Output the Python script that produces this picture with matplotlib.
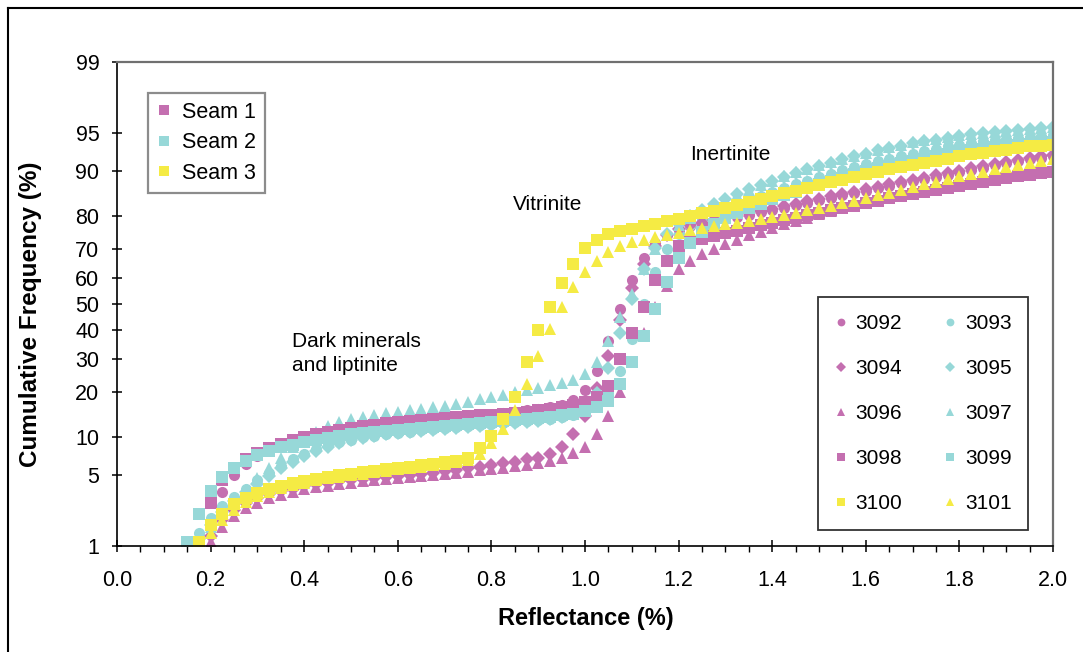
import math
import numpy as np
import matplotlib
matplotlib.use("Agg")
import matplotlib.pyplot as plt
from matplotlib.lines import Line2D
from matplotlib.ticker import FixedLocator, MultipleLocator, FormatStrFormatter

plt.rcParams['font.family'] = ['Liberation Sans', 'DejaVu Sans']

# Reflectance bins (%)
refl = [0.150, 0.175, 0.200, 0.225, 0.250, 0.275, 0.300, 0.325, 0.350, 0.375,
        0.400, 0.425, 0.450, 0.475, 0.500, 0.525, 0.550, 0.575, 0.600, 0.625,
        0.650, 0.675, 0.700, 0.725, 0.750, 0.775, 0.800, 0.825, 0.850, 0.875,
        0.900, 0.925, 0.950, 0.975, 1.000, 1.025, 1.050, 1.075, 1.100, 1.125,
        1.150, 1.175, 1.200, 1.225, 1.250, 1.275, 1.300, 1.325, 1.350, 1.375,
        1.400, 1.425, 1.450, 1.475, 1.500, 1.525, 1.550, 1.575, 1.600, 1.625,
        1.650, 1.675, 1.700, 1.725, 1.750, 1.775, 1.800, 1.825, 1.850, 1.875,
        1.900, 1.925, 1.950, 1.975, 2.000]

# cumulative frequency (%) for each sample, None = no reading
s3092 = [None, None, 1.8, 3.5, 5.0, 6.2, 7.2, 8.0, 8.7, 9.3,
         9.9, 10.4, 10.9, 11.3, 11.7, 12.0, 12.3, 12.5, 12.7, 12.9,
         13.1, 13.3, 13.5, 13.7, 13.9, 14.1, 14.4, 14.7, 15.0, 15.3,
         15.6, 16.0, 16.6, 17.8, 20.5, 26, 36, 48, 59, 67,
         72, 74.5, 76.2, 77.2, 78.0, 78.7, 79.3, 79.9, 80.5, 81.1,
         81.7, 82.3, 82.9, 83.5, 84.1, 84.7, 85.2, 85.7, 86.2, 86.7,
         87.2, 87.7, 88.1, 88.5, 88.9, 89.3, 89.7, 90.1, 90.5, 90.9,
         91.2, 91.5, 91.8, 92.0, 92.2]
s3094 = [None, None, 1.3, 1.9, 2.4, 2.8, 3.1, 3.4, 3.6, 3.8,
         4.0, 4.2, 4.3, 4.45, 4.55, 4.65, 4.75, 4.85, 4.95, 5.05,
         5.15, 5.25, 5.4, 5.55, 5.7, 5.9, 6.1, 6.3, 6.5, 6.75,
         7.0, 7.5, 8.5, 10.5, 14, 21, 31, 44, 56, 65,
         71, 74.5, 76.5, 77.5, 78.3, 79.0, 79.6, 80.2, 80.8, 81.4,
         82.0, 82.6, 83.2, 83.8, 84.4, 85.0, 85.5, 86.0, 86.5, 87.0,
         87.5, 88.0, 88.4, 88.8, 89.2, 89.6, 90.0, 90.4, 90.8, 91.1,
         91.4, 91.7, 92.0, 92.2, 92.4]
s3096 = [None, None, 1.1, 1.6, 2.1, 2.5, 2.8, 3.1, 3.35, 3.55,
         3.75, 3.9, 4.05, 4.2, 4.3, 4.4, 4.5, 4.6, 4.7, 4.8,
         4.9, 5.0, 5.1, 5.2, 5.35, 5.5, 5.65, 5.8, 5.95, 6.1,
         6.3, 6.6, 7.0, 7.6, 8.5, 10.5, 14, 20, 29, 39,
         49, 57, 63, 66, 68.5, 70.3, 71.8, 73.2, 74.5, 75.7,
         76.8, 77.8, 78.8, 79.7, 80.6, 81.4, 82.1, 82.8, 83.5, 84.1,
         84.7, 85.3, 85.8, 86.3, 86.8, 87.3, 87.8, 88.2, 88.6, 89.0,
         89.3, 89.6, 89.9, 90.1, 90.3]
s3098 = [None, None, 2.8, 4.5, 5.8, 6.8, 7.6, 8.3, 8.9, 9.5,
         10.0, 10.5, 10.9, 11.3, 11.7, 12.0, 12.3, 12.6, 12.8, 13.0,
         13.2, 13.4, 13.6, 13.8, 14.0, 14.2, 14.4, 14.6, 14.8, 15.0,
         15.3, 15.6, 16.0, 16.5, 17.2, 18.5, 21.5, 30, 39, 49,
         59, 66, 71, 72.5, 73.5, 74.4, 75.2, 76.0, 76.8, 77.5,
         78.2, 78.9, 79.6, 80.3, 81.0, 81.6, 82.2, 82.8, 83.4, 84.0,
         84.5, 85.0, 85.5, 86.0, 86.4, 86.8, 87.2, 87.6, 88.0, 88.4,
         88.7, 89.0, 89.3, 89.6, 89.8]
s3093 = [1.0, 1.4, 2.0, 2.6, 3.2, 3.8, 4.5, 5.2, 6.0, 6.8,
         7.5, 8.1, 8.7, 9.2, 9.6, 10.0, 10.3, 10.6, 10.8, 11.0,
         11.2, 11.4, 11.6, 11.8, 12.0, 12.2, 12.4, 12.6, 12.8, 13.0,
         13.2, 13.5, 13.8, 14.3, 15.0, 16.5, 19.5, 26, 37, 50,
         62, 70, 75, 77.5, 79.3, 80.7, 82.0, 83.1, 84.1, 85.0,
         85.9, 86.7, 87.5, 88.2, 88.9, 89.5, 90.1, 90.6, 91.1, 91.5,
         91.9, 92.3, 92.6, 92.9, 93.2, 93.5, 93.7, 93.9, 94.1, 94.3,
         94.4, 94.5, 94.6, 94.7, 94.8]
s3095 = [None, 1.2, 1.7, 2.3, 2.9, 3.5, 4.2, 4.9, 5.7, 6.5,
         7.2, 7.9, 8.5, 9.0, 9.5, 9.9, 10.2, 10.5, 10.7, 10.9,
         11.1, 11.3, 11.5, 11.7, 11.9, 12.1, 12.3, 12.5, 12.7, 12.9,
         13.1, 13.4, 13.8, 14.5, 16, 19.5, 27, 39, 52, 63,
         70.5, 75, 78, 80, 81.7, 83.1, 84.4, 85.5, 86.5, 87.4,
         88.2, 88.9, 89.6, 90.2, 90.8, 91.3, 91.8, 92.2, 92.6, 93.0,
         93.3, 93.6, 93.9, 94.1, 94.3, 94.5, 94.7, 94.9, 95.0, 95.1,
         95.2, 95.3, 95.4, 95.5, 95.6]
s3097 = [None, 1.1, 1.6, 2.2, 2.9, 3.7, 4.7, 5.8, 7.0, 8.4,
         9.8, 11.0, 12.0, 12.8, 13.4, 13.9, 14.3, 14.7, 15.0, 15.3,
         15.6, 16.0, 16.4, 16.9, 17.4, 18.0, 18.6, 19.2, 19.8, 20.4,
         21.0, 21.7, 22.4, 23.3, 25.0, 29, 36, 45, 54, 63,
         70, 74.5, 77.5, 79.5, 81.2, 82.7, 84.0, 85.2, 86.3, 87.3,
         88.2, 89.0, 89.7, 90.3, 90.9, 91.4, 91.9, 92.3, 92.7, 93.1,
         93.4, 93.7, 94.0, 94.2, 94.4, 94.6, 94.8, 94.9, 95.0, 95.1,
         95.2, 95.3, 95.4, 95.5, 95.6]
s3099 = [1.1, 2.2, 3.6, 4.8, 5.8, 6.6, 7.3, 7.9, 8.4, 8.8,
         9.2, 9.6, 9.9, 10.2, 10.5, 10.7, 10.9, 11.1, 11.3, 11.5,
         11.7, 11.9, 12.1, 12.3, 12.5, 12.7, 12.9, 13.1, 13.3, 13.5,
         13.7, 13.9, 14.2, 14.6, 15.2, 16.0, 17.5, 22, 29, 38,
         48, 58.5, 67, 72, 75.5, 77.8, 79.5, 80.9, 82.2, 83.3,
         84.3, 85.2, 86.0, 86.8, 87.5, 88.2, 88.8, 89.4, 89.9, 90.4,
         90.8, 91.2, 91.6, 91.9, 92.2, 92.5, 92.8, 93.0, 93.2, 93.4,
         93.6, 93.7, 93.8, 93.9, 94.0]
s3100 = [None, 1.1, 1.7, 2.2, 2.7, 3.1, 3.45, 3.75, 4.0, 4.25,
         4.45, 4.65, 4.85, 5.0, 5.15, 5.3, 5.45, 5.6, 5.75, 5.9,
         6.05, 6.2, 6.4, 6.6, 7.0, 8.3, 10.2, 13.5, 18.5, 29,
         40, 49, 58, 65, 70.5, 73.2, 74.8, 75.8, 76.6, 77.3,
         78.0, 78.7, 79.4, 80.1, 80.8, 81.5, 82.2, 82.9, 83.6, 84.3,
         85.0, 85.6, 86.2, 86.8, 87.4, 87.9, 88.4, 88.9, 89.4, 89.8,
         90.2, 90.6, 91.0, 91.3, 91.6, 91.9, 92.2, 92.5, 92.7, 92.9,
         93.1, 93.3, 93.5, 93.6, 93.7]
s3101 = [None, None, 1.4, 1.9, 2.4, 2.85, 3.25, 3.55, 3.85, 4.1,
         4.3, 4.5, 4.7, 4.85, 5.0, 5.15, 5.3, 5.45, 5.6, 5.75,
         5.9, 6.05, 6.2, 6.4, 6.7, 7.5, 9.0, 11.5, 15.5, 22,
         31, 40.5, 49, 56.5, 62, 66, 69, 71, 72.3, 73.2,
         74.0, 74.7, 75.4, 76.1, 76.8, 77.3, 77.8, 78.3, 78.8, 79.3,
         79.8, 80.4, 81.0, 81.6, 82.2, 82.8, 83.4, 84.0, 84.6, 85.2,
         85.8, 86.4, 87.0, 87.5, 88.0, 88.5, 89.0, 89.4, 89.8, 90.2,
         90.6, 90.9, 91.2, 91.5, 91.8]

labels = ['3092', '3093', '3094', '3095', '3096', '3097', '3098', '3099', '3100', '3101']
data = [s3092, s3093, s3094, s3095, s3096, s3097, s3098, s3099, s3100, s3101]

magenta = '#C46FB0'
cyan = '#97D8D8'
yellow = '#F5EB44'
colores = [magenta, cyan, magenta, cyan, magenta, cyan, magenta, cyan, yellow, yellow]
marcas = ['o', 'o', 'D', 'D', '^', '^', 's', 's', 's', '^']
tamanos = {'o': 8.0, 'D': 7.5, '^': 9.0, 's': 8.0}

yticks = [1, 5, 10, 20, 30, 40, 50, 60, 70, 80, 90, 95, 99]


# escala de probabilidad normal (probit)
def ppf(p):
    p = np.asarray(p, dtype=float)
    forma = p.shape
    p = np.clip(p.ravel(), 1e-12, 1 - 1e-12)
    a = [-3.969683028665376e+01, 2.209460984245205e+02, -2.759285104469687e+02,
         1.383577518672690e+02, -3.066479806614716e+01, 2.506628277459239e+00]
    b = [-5.447609879822406e+01, 1.615858368580409e+02, -1.556989798598866e+02,
         6.680131188771972e+01, -1.328068155288572e+01]
    c = [-7.784894002430293e-03, -3.223964580411365e-01, -2.400758277161838e+00,
         -2.549732539343734e+00, 4.374664141464968e+00, 2.938163982698783e+00]
    d = [7.784695709041462e-03, 3.224671290700398e-01, 2.445134137142996e+00,
         3.754408661907416e+00]
    out = np.full(p.shape, np.nan)
    lo = p < 0.02425
    hi = p > 1 - 0.02425
    mid = ~(lo | hi)
    q = np.sqrt(-2 * np.log(p[lo]))
    out[lo] = (((((c[0]*q + c[1])*q + c[2])*q + c[3])*q + c[4])*q + c[5]) / \
              ((((d[0]*q + d[1])*q + d[2])*q + d[3])*q + 1)
    q = p[mid] - 0.5
    r = q * q
    out[mid] = (((((a[0]*r + a[1])*r + a[2])*r + a[3])*r + a[4])*r + a[5])*q / \
               (((((b[0]*r + b[1])*r + b[2])*r + b[3])*r + b[4])*r + 1)
    q = np.sqrt(-2 * np.log(1 - p[hi]))
    out[hi] = -(((((c[0]*q + c[1])*q + c[2])*q + c[3])*q + c[4])*q + c[5]) / \
               ((((d[0]*q + d[1])*q + d[2])*q + d[3])*q + 1)
    return out.reshape(forma)


_erf = np.vectorize(math.erf, otypes=[float])


def adelante(pct):
    return ppf(np.asarray(pct, dtype=float) / 100.0)


def atras(z):
    return 100.0 * 0.5 * (1 + _erf(np.asarray(z, dtype=float) / math.sqrt(2)))


fig = plt.figure(figsize=(10.83, 6.52), dpi=100)
ax = fig.add_axes([117/1083, 106/652, 936/1083, 484/652])

x = np.array(refl)
for lab, vals, col, m in zip(labels, data, colores, marcas):
    y = np.array(vals, dtype=float)
    ax.plot(x, y, linestyle='none', marker=m, markersize=tamanos[m],
            color=col, markeredgewidth=0, label=lab)

ax.set_yscale('function', functions=(adelante, atras))
ax.set_ylim(1, 99)
ax.set_xlim(0, 2.0)
ax.yaxis.set_major_locator(FixedLocator(yticks))
ax.set_yticklabels([str(v) for v in yticks])
ax.yaxis.set_minor_locator(FixedLocator([]))
ax.xaxis.set_major_locator(MultipleLocator(0.2))
ax.xaxis.set_minor_locator(MultipleLocator(0.05))
ax.xaxis.set_major_formatter(FormatStrFormatter('%.1f'))

ax.tick_params(axis='y', which='major', direction='inout', length=7.5, width=1.1,
               labelsize=15.5, pad=9)
ax.tick_params(axis='x', which='major', direction='inout', length=9, width=1.1,
               labelsize=15.5, pad=13)
ax.tick_params(axis='x', which='minor', direction='out', length=4.5, width=1.0)

for lado in ['left', 'bottom']:
    ax.spines[lado].set_color('black')
    ax.spines[lado].set_linewidth(1.2)
for lado in ['top', 'right']:
    ax.spines[lado].set_color('#707070')
    ax.spines[lado].set_linewidth(1.6)

ax.set_xlabel('Reflectance (%)', fontsize=17, fontweight='bold')
ax.xaxis.set_label_coords(0.501, -0.126)
ax.set_ylabel('Cumulative Frequency (%)', fontsize=17.5, fontweight='bold')
ax.yaxis.set_label_coords(-0.080, 0.479)

# textos dentro del grafico
ax.text(0.187, 0.397, 'Dark minerals\nand liptinite', transform=ax.transAxes,
        fontsize=15, ha='left', va='center', linespacing=1.35)
ax.text(0.423, 0.705, 'Vitrinite', transform=ax.transAxes, fontsize=15,
        ha='left', va='center')
ax.text(0.612, 0.808, 'Inertinite', transform=ax.transAxes, fontsize=15,
        ha='left', va='center')

# leyenda de mantos
manejadores = [Line2D([], [], linestyle='none', marker='s', markersize=7,
                      color=c, markeredgewidth=0) for c in [magenta, cyan, yellow]]
ley1 = ax.legend(manejadores, ['Seam 1', 'Seam 2', 'Seam 3'], loc='upper left',
                 bbox_to_anchor=(0.033, 0.936), borderaxespad=0, fontsize=15.5,
                 frameon=True, fancybox=False, handlelength=0.7,
                 handletextpad=0.5, labelspacing=0.45, borderpad=0.4)
ley1.get_frame().set_edgecolor('#707070')
ley1.get_frame().set_linewidth(1.6)
ax.add_artist(ley1)

# leyenda de muestras (dos columnas)
h, l = ax.get_legend_handles_labels()
orden = [0, 2, 4, 6, 8, 1, 3, 5, 7, 9]
ley2 = ax.legend([h[i] for i in orden], [l[i] for i in orden], ncol=2,
                 loc='upper left', bbox_to_anchor=(0.749, 0.514), borderaxespad=0,
                 fontsize=15, frameon=True, fancybox=False, handlelength=0.6,
                 handletextpad=0.4, labelspacing=1.25, columnspacing=2.0,
                 borderpad=0.8, markerscale=0.7)
ley2.get_frame().set_edgecolor('black')
ley2.get_frame().set_linewidth(1.3)

# borde de la figura (solo arriba e izquierda)
fig.add_artist(Line2D([8/1083, 8/1083], [0, 1 - 8/652], transform=fig.transFigure,
                      color='black', linewidth=1.5))
fig.add_artist(Line2D([8/1083, 1], [1 - 8/652, 1 - 8/652], transform=fig.transFigure,
                      color='black', linewidth=1.5))

fig.savefig('out.png', dpi=100)
